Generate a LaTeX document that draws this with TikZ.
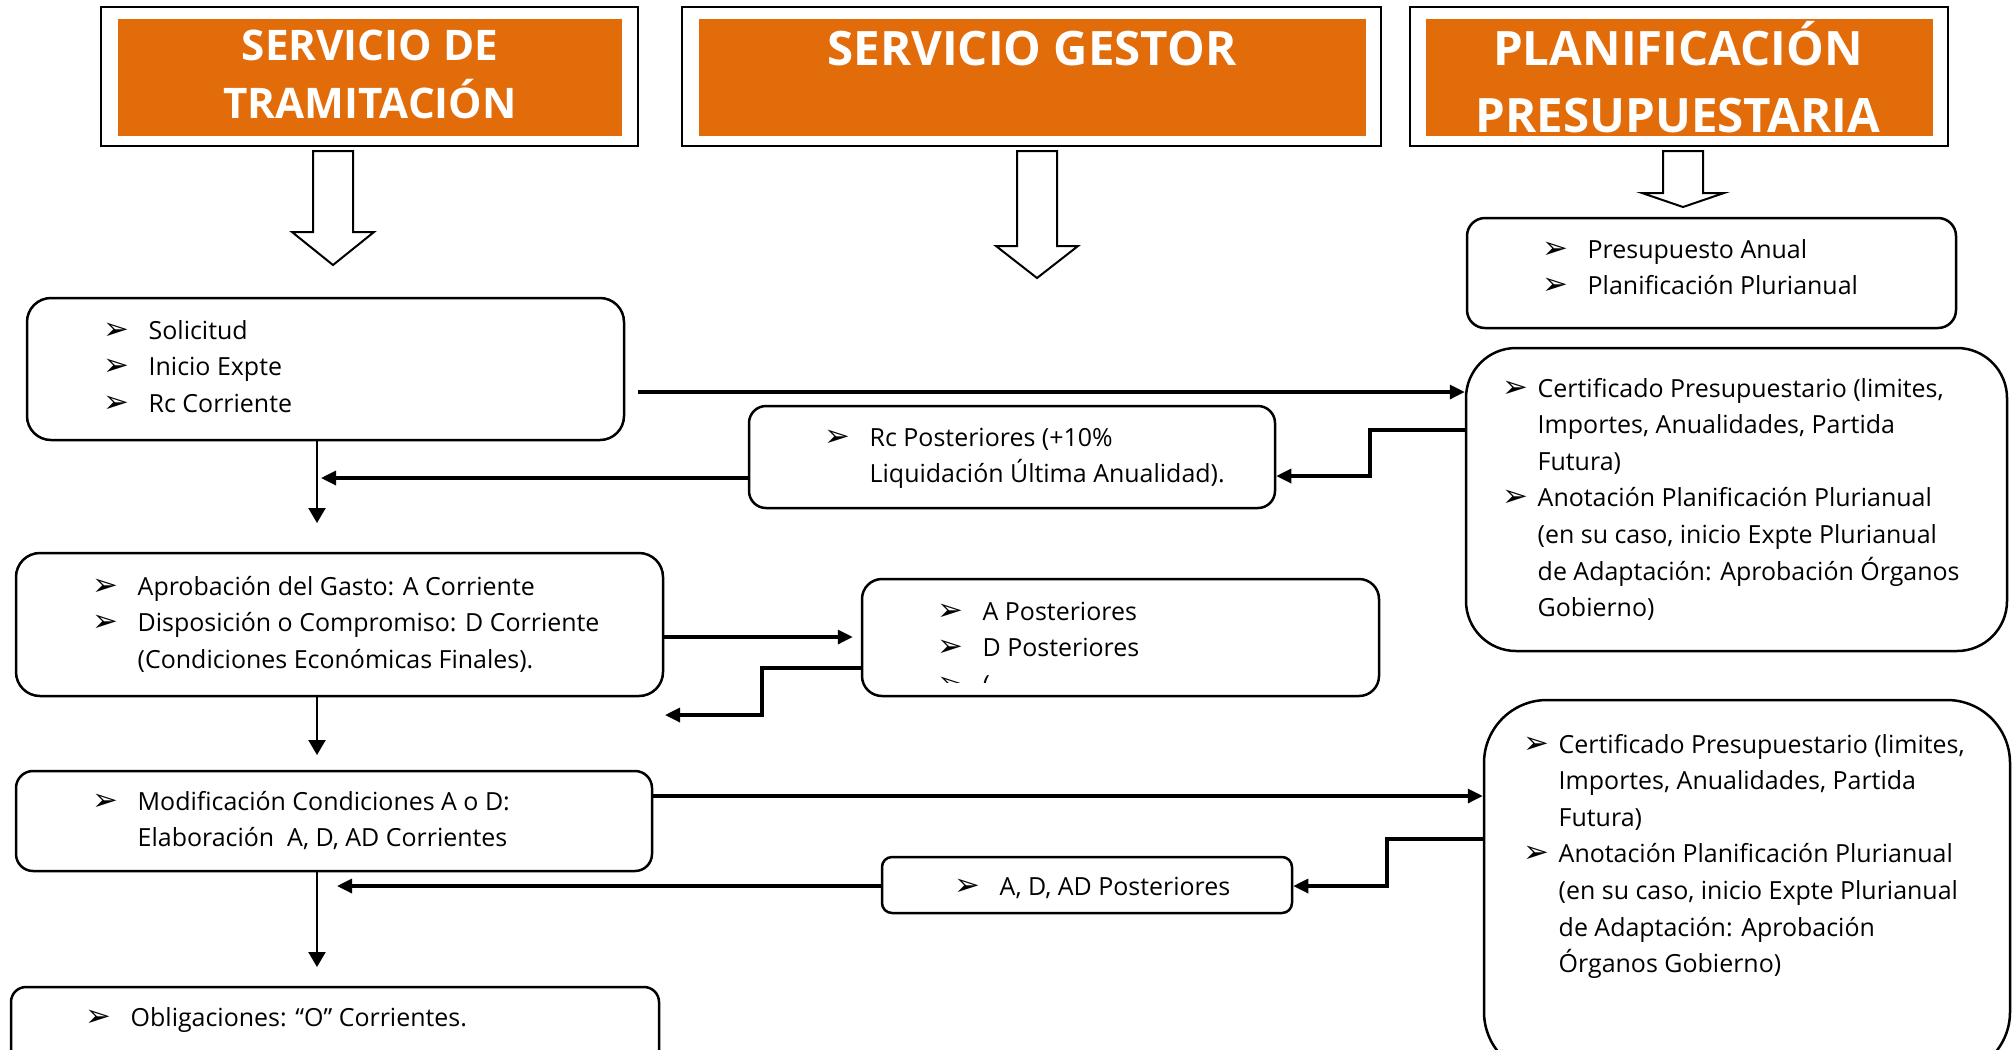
\documentclass[tikz,border=0pt]{standalone}
\usepackage{fontspec}
\setmainfont{Open Sans}
\newfontfamily\bulfont{DejaVu Sans}
\usetikzlibrary{arrows.meta,fit}

\definecolor{hdrorange}{HTML}{E26B0A}
\newlength\bulw
\setlength\bulw{4.5mm}
\newcommand\bul{\strut\makebox[\bulw][l]{\bulfont\fontsize{8.8}{8.8}\selectfont ➢}}
\newcommand\ind{\hspace*{\bulw}}
\newcommand\hollowarrow[4]{%
  \draw[hollow] (#1-20,#2) -- (#1+20,#2) -- (#1+20,#3) -- (#1+41,#3)
    -- (#1,#4) -- (#1-41,#3) -- (#1-20,#3) -- cycle;}

\tikzset{
  box/.style={draw, line width=0.25mm, rounded corners=#1, inner sep=0pt},
  box/.default=2.4mm,
  hdrframe/.style={draw, line width=0.22mm, inner sep=0pt},
  hdrfill/.style={fill=hdrorange, inner sep=0pt},
  hdrtext/.style={text=white, inner sep=0pt, anchor=north, align=center},
  hollow/.style={draw, line width=0.2mm, fill=white},
  txt/.style={inner sep=0pt, anchor=north west, align=left,
    font=\fontsize{7.1}{10.4}\selectfont},
  certtxt/.style={txt, execute at begin node={\setlength\bulw{3.5mm}}},
  conn/.style={line width=0.33mm, -{Triangle[length=1.5mm,width=1.4mm]}},
  vconn/.style={line width=0.22mm, -{Triangle[length=1.5mm,width=1.7mm]}}
}

\begin{document}
\begin{tikzpicture}[x=0.1mm, y=-0.1mm]
\useasboundingbox (0,0) rectangle (2013,1049);
\clip (0,0) rectangle (2013,1049);

\node[hdrframe, fit={(101,7) (638,146)}] (h1) {};
\node[hdrfill, fit={(118,19) (622,136)}] (h1f) {};
\node[hdrframe, fit={(682,7) (1381,146)}] (h2) {};
\node[hdrfill, fit={(699,19) (1366,136)}] (h2f) {};
\node[hdrframe, fit={(1410,7) (1948,146)}] (h3) {};
\node[hdrfill, fit={(1426,19) (1933,136)}] (h3f) {};

\node[hdrtext, font=\fontsize{12}{16.5}\selectfont\bfseries] (h1t) at (370,19) {\strut SERVICIO DE\\TRAMITACIÓN};
\node[hdrtext, font=\fontsize{13.5}{18.8}\selectfont\bfseries] (h2t) at (1032,19) {\strut SERVICIO GESTOR};
\node[hdrtext, font=\fontsize{13.5}{18.8}\selectfont\bfseries] (h3t) at (1678,19) {\strut PLANIFICACIÓN\\PRESUPUESTARIA};

\hollowarrow{333}{151}{232}{265}
\hollowarrow{1037}{151}{246}{278}
\hollowarrow{1683}{151}{193}{207}

\node[box, fit={(27,298) (624,440)}] (b1) {};
\node[box=1.8mm, fit={(1467,218) (1956,328)}] (plan) {};
\node[box=5mm, fit={(1466,348) (2007,651)}] (cert1) {};
\node[box=1.7mm, fit={(749,406) (1275,508)}] (rcp) {};
\node[box, fit={(16,553) (663,696)}] (b2) {};
\node[box=2mm, fit={(862,579) (1379,696)}] (adp) {};
\node[box=1.7mm, fit={(16,771) (652,871)}] (b3) {};
\node[box=1mm, fit={(882,857) (1292,913)}] (adp2) {};
\node[box=6.3mm, fit={(1484,700) (2010,1075)}] (cert2) {};
\node[box=1.5mm, fit={(11,987) (659,1080)}] (b4) {};

\node[txt] (b1t) at (103,313) {\bul Solicitud\\ \bul Inicio Expte\\ \bul Rc Corriente};
\node[txt] (plant) at (1542,232) {\bul Presupuesto Anual\\ \bul Planificación Plurianual};
\node[certtxt] (cert1t) at (1502,371) {\bul Certificado Presupuestario (limites,\\ \ind Importes, Anualidades, Partida\\ \ind Futura)\\ \bul Anotación Planificación Plurianual\\ \ind (en su caso, inicio Expte Plurianual\\ \ind de Adaptación: Aprobación Órganos\\ \ind Gobierno)};
\node[txt] (rcpt) at (824,420) {\bul Rc Posteriores (+10\%\\ \ind Liquidación Última Anualidad).};
\node[txt] (b2t) at (92,569) {\bul Aprobación del Gasto: A Corriente\\ \bul Disposición o Compromiso: D Corriente\\ \ind (Condiciones Económicas Finales).};
\node[txt] (adpt) at (937,594) {\bul A Posteriores\\ \bul D Posteriores};
\begin{scope}
\clip (862,579) rectangle (1379,682);
\node[txt] (adpf) at (937,667) {\bul (};
\end{scope}
\node[txt] (b3t) at (92,784) {\bul Modificación Condiciones A o D:\\ \ind Elaboración\ \ A, D, AD Corrientes};
\node[txt] (adp2t) at (954,869) {\bul A, D, AD Posteriores};
\node[certtxt] (cert2t) at (1523,727) {\bul Certificado Presupuestario (limites,\\ \ind Importes, Anualidades, Partida\\ \ind Futura)\\ \bul Anotación Planificación Plurianual\\ \ind (en su caso, inicio Expte Plurianual\\ \ind de Adaptación: Aprobación\\ \ind Órganos Gobierno)};
\node[txt] (b4t) at (85,1000) {\bul Obligaciones: “O” Corrientes.};

\coordinate (e1) at (321,478);
\coordinate (e2) at (665,715);
\coordinate (e3) at (337,886);
\coordinate (v1) at (317,523);
\coordinate (v2) at (317,755);
\coordinate (v3) at (317,967);

\draw[conn, shorten <=1.3mm] (b1.east |- 0,392) -- (cert1.west |- 0,392);
\draw[conn] (cert1.west |- 0,430) -| (1370,476) -- (rcp.east |- 0,476);
\draw[conn] (rcp.west |- e1) -- (e1);
\draw[vconn] (b1.south -| v1) -- (v1);

\draw[conn, shorten >=0.8mm] (b2.east |- 0,637) -- (adp.west |- 0,637);
\draw[conn] (adp.west |- 0,668) -| (762,715) -- (e2);
\draw[vconn] (b2.south -| v2) -- (v2);

\draw[conn] (b3.east |- 0,796) -- (cert2.west |- 0,796);
\draw[conn] (cert2.west |- 0,839) -| (1387,886) -- (adp2.east |- 0,886);
\draw[conn] (adp2.west |- e3) -- (e3);
\draw[vconn] (b3.south -| v3) -- (v3);

\end{tikzpicture}
\end{document}
